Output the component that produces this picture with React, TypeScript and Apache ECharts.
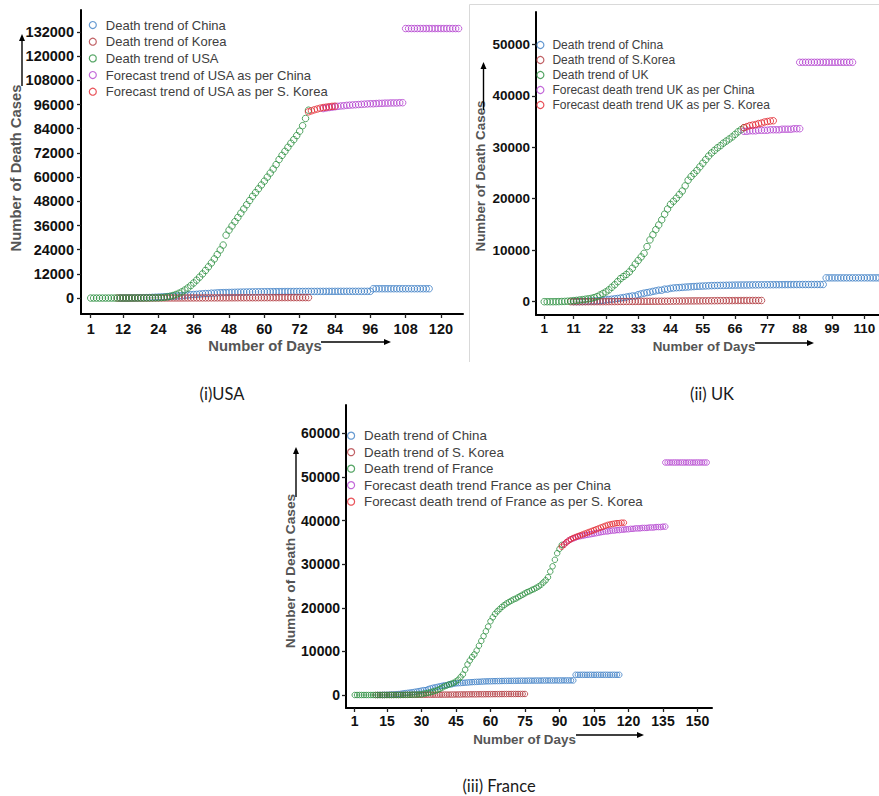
import React, { useEffect, useRef } from "react";
import * as echarts from "echarts";

// ---------- tick labels ----------
const usaDayTicks = [1, 12, 24, 36, 48, 60, 72, 84, 96, 108, 120];
const usaCaseTicks = [0, 12000, 24000, 36000, 48000, 60000, 72000, 84000, 96000, 108000, 120000, 132000];
const ukDayTicks = [1, 11, 22, 33, 44, 55, 66, 77, 88, 99, 110];
const ukCaseTicks = [0, 10000, 20000, 30000, 40000, 50000];
const frDayTicks = [1, 15, 30, 45, 60, 75, 90, 105, 120, 135, 150];
const frCaseTicks = [0, 10000, 20000, 30000, 40000, 50000, 60000];

// ---------- shared series ----------
const chinaStartDay = 11;
const chinaDeaths = [
  17, 18, 26, 42, 56, 82, 131, 133, 171, 213,
  259, 361, 425, 490, 562, 632, 717, 804, 904, 1011,
  1111, 1116, 1368, 1520, 1662, 1765, 1863, 2002, 2114, 2236,
  2236, 2441, 2443, 2593, 2663, 2715, 2744, 2788, 2835, 2870,
  2912, 2945, 2981, 3013, 3042, 3070, 3097, 3120, 3136, 3158,
  3169, 3176, 3189, 3199, 3213, 3226, 3237, 3245, 3249, 3253,
  3259, 3274, 3274, 3281, 3285, 3291, 3296, 3299, 3304, 3308,
  3309, 3316, 3322, 3326, 3330, 3331, 3333, 3335, 3338, 3339,
  3340, 3343, 3343, 3345, 3345, 3346,
  4632, 4632, 4632, 4632, 4632, 4632, 4633, 4633, 4633, 4633,
  4633, 4633, 4633, 4634, 4634, 4634, 4634, 4634, 4634, 4634,
];
const koreaStartDay = 10;
const koreaDeaths = [
  0, 0, 1, 2, 2, 6, 8, 10, 12, 13,
  13, 16, 17, 28, 28, 35, 35, 42, 44, 50,
  53, 54, 60, 66, 66, 72, 75, 75, 81, 84,
  91, 94, 102, 104, 111, 120, 126, 131, 139, 144,
  152, 158, 162, 165, 169, 174, 177, 183, 186, 192,
  200, 204, 208, 211, 214, 217, 222, 225, 229, 230,
  232, 234, 236, 237, 238, 240,
];

// ---------- USA ----------
const usaStartDay = 1;
const usaDeaths = [
  0, 0, 0, 1, 1, 2, 6, 9, 11, 12,
  14, 17, 19, 22, 26, 31, 38, 41, 49, 57,
  69, 85, 108, 150, 250, 400, 600, 900, 1300, 1800,
  2400, 3100, 4000, 5000, 6200, 7500, 8900, 10400, 12000, 13700,
  15500, 17400, 19400, 21600, 23900, 26300, 31200, 33700, 35800, 37900,
  40000, 42100, 44200, 46300, 48400, 50500, 52300, 54200, 56100, 58000,
  60000, 62000, 64000, 66200, 68700, 70800, 72800, 74800, 76800, 78600,
  80600, 82800, 85500, 89100, 93200,
];
const usaChinaFcStartDay = 80;
const usaChinaFc = [
  94000, 94300, 94500, 94700, 94900, 95100, 95300, 95400, 95600, 95700,
  95800, 95900, 96000, 96100, 96200, 96300, 96400, 96400, 96500, 96600,
  96600, 96700, 96700, 96800, 96800, 96800, 96900, 96900,
];
const usaChinaFc2StartDay = 108;
const usaChinaFc2 = [
  133700, 133700, 133700, 133700, 133700, 133700, 133700, 133700, 133700, 133700,
  133700, 133700, 133700, 133700, 133700, 133700, 133700, 133700, 133700,
];
const usaKoreaFcStartDay = 75;
const usaKoreaFc = [92400, 92900, 93400, 93800, 94200, 94500, 94700, 94900, 95100, 95200];

// ---------- UK ----------
const ukStartDay = 1;
const ukDeaths = [
  0, 0, 0, 0, 10, 20, 40, 60, 100, 150,
  200, 260, 330, 400, 480, 560, 650, 800, 1000, 1300,
  1600, 1900, 2300, 2800, 3300, 3900, 4500, 4900, 5300, 5800,
  6500, 7300, 8000, 8700, 9400, 10700, 12000, 13000, 14000, 14900,
  15900, 17000, 18000, 18900, 19500, 20100, 20800, 21500, 22500, 23600,
  24300, 24900, 25500, 26200, 26900, 27600, 28300, 28900, 29400, 29900,
  30300, 30800, 31200, 31600, 32000, 32500, 33000, 33400, 33800,
];
const ukChinaFcStartDay = 69;
const ukChinaFc = [
  33100, 33100, 33200, 33200, 33200, 33300, 33300, 33300, 33300, 33400,
  33400, 33400, 33400, 33500, 33500, 33500, 33500, 33600, 33600, 33600,
];
const ukChinaFc2StartDay = 88;
const ukChinaFc2 = [
  46500, 46500, 46500, 46500, 46500, 46500, 46500, 46500, 46500, 46500,
  46500, 46500, 46500, 46500, 46500, 46500, 46500, 46500, 46500,
];
const ukKoreaFcStartDay = 69;
const ukKoreaFc = [33800, 34000, 34200, 34300, 34400, 34600, 34700, 34900, 35000, 35100, 35150];

// ---------- France ----------
const frStartDay = 1;
const frDeaths = [
  0, 0, 1, 1, 1, 1, 1, 1, 2, 2,
  2, 2, 2, 2, 2, 3, 4, 4, 7, 9,
  11, 19, 33, 48, 48, 79, 91, 91, 148, 148,
  300, 400, 520, 650, 800, 950, 1150, 1400, 1700, 2000,
  2200, 2400, 2600, 2800, 3100, 3500, 4100, 4700, 5800, 7000,
  7900, 8700, 9300, 10200, 11300, 12400, 13500, 14600, 15700, 16900,
  17800, 18600, 19200, 19700, 20200, 20600, 21000, 21300, 21600, 21900,
  22100, 22400, 22700, 23000, 23300, 23600, 23800, 24100, 24300, 24600,
  24900, 25300, 25800, 26300, 27000, 28300, 29500, 31000, 32500, 33500, 34400,
];
const frChinaFcStartDay = 92;
const frChinaFc = [
  34500, 35000, 35400, 35700, 35900, 36100, 36300, 36400, 36500, 36600,
  36700, 36800, 36900, 37000, 37100, 37200, 37300, 37400, 37500, 37500,
  37600, 37700, 37700, 37800, 37800, 37900, 37900, 38000, 38000, 38100,
  38100, 38200, 38200, 38200, 38300, 38300, 38300, 38400, 38400, 38400,
  38500, 38500, 38500, 38600, 38600,
];
const frChinaFc2StartDay = 136;
const frChinaFc2 = [
  53300, 53300, 53300, 53300, 53300, 53300, 53300, 53300, 53300, 53300,
  53300, 53300, 53300, 53300, 53300, 53300, 53300, 53300, 53300,
];
const frKoreaFcStartDay = 91;
const frKoreaFc = [
  34000, 34500, 35000, 35400, 35700, 36000, 36200, 36400, 36600, 36800,
  37000, 37200, 37400, 37600, 37800, 38000, 38200, 38400, 38600, 38800,
  39000, 39100, 39200, 39300, 39400, 39400, 39500, 39500,
];

// ---------- names ----------
const usaNames = [
  "Death trend of China",
  "Death trend of Korea",
  "Death trend of USA",
  "Forecast trend of USA as per China",
  "Forecast trend of USA as per S. Korea",
];
const ukNames = [
  "Death trend of China",
  "Death trend of S.Korea",
  "Death trend of UK",
  "Forecast death trend UK as per China",
  "Forecast death trend UK as per S. Korea",
];
const frNames = [
  "Death trend of China",
  "Death trend of S. Korea",
  "Death trend of France",
  "Forecast death trend France as per China",
  "Forecast death trend of France as per S. Korea",
];

const COLORS = ["#3f7fc6", "#b2393f", "#2a8f3e", "#b444cf", "#e3272f"];
const SANS = "Liberation Sans";

function seg(start: number, values: number[]) {
  return values.map((v, i) => [start + i, v]);
}

export default function App() {
  const ref = useRef<HTMLDivElement>(null);
  useEffect(() => {
    if (!ref.current) return;
    const chart = echarts.init(ref.current, undefined, { renderer: "svg" });

    const grids = [
      { left: 81, top: 10, width: 382, height: 304 },
      { left: 536, top: 12, width: 343, height: 303 },
      { left: 346, top: 405, width: 366, height: 303 },
    ];
    const xCfg = [
      { min: -2.3, max: 127.5, ticks: usaDayTicks, fs: 14.5, margin: 7 },
      { min: -1.8, max: 115, ticks: ukDayTicks, fs: 13.5, margin: 6 },
      { min: -2.8, max: 156.3, ticks: frDayTicks, fs: 14, margin: 6 },
    ];
    const yCfg = [
      { min: -7900, max: 142900, ticks: usaCaseTicks, fs: 14.5, margin: 7 },
      { min: -2580, max: 56270, ticks: ukCaseTicks, fs: 13.5, margin: 6 },
      { min: -2977, max: 66480, ticks: frCaseTicks, fs: 14, margin: 6 },
    ];
    const axisCommon = (c: any, i: number) => ({
      type: "value",
      gridIndex: i,
      min: c.min,
      max: c.max,
      axisLine: { show: true, onZero: false, lineStyle: { color: "#000", width: 2 } },
      axisTick: { show: true, length: 4, customValues: c.ticks, lineStyle: { color: "#222", width: 1.3 } },
      axisLabel: {
        customValues: c.ticks,
        formatter: (v: number) => String(v),
        fontFamily: SANS,
        fontWeight: "bold",
        fontSize: c.fs,
        color: "#111",
        margin: c.margin,
      },
      splitLine: { show: false },
    });

    const symSizes = [6.5, 6.5, 5.5];
    const sc = (name: string, data: number[][], color: string, g: number) => ({
      type: "scatter",
      name,
      xAxisIndex: g,
      yAxisIndex: g,
      data,
      symbol: "circle",
      symbolSize: symSizes[g],
      itemStyle: { color: "rgba(0,0,0,0)", borderColor: color, borderWidth: 1 },
      silent: true,
      clip: true,
    });

    const series = [
      sc(usaNames[0], seg(chinaStartDay, chinaDeaths), COLORS[0], 0),
      sc(usaNames[1], seg(koreaStartDay, koreaDeaths), COLORS[1], 0),
      sc(usaNames[2], seg(usaStartDay, usaDeaths), COLORS[2], 0),
      sc(usaNames[3], seg(usaChinaFcStartDay, usaChinaFc).concat(seg(usaChinaFc2StartDay, usaChinaFc2)), COLORS[3], 0),
      sc(usaNames[4], seg(usaKoreaFcStartDay, usaKoreaFc), COLORS[4], 0),

      sc(ukNames[0], seg(chinaStartDay, chinaDeaths), COLORS[0], 1),
      sc(ukNames[1], seg(koreaStartDay, koreaDeaths), COLORS[1], 1),
      sc(ukNames[2], seg(ukStartDay, ukDeaths), COLORS[2], 1),
      sc(ukNames[3], seg(ukChinaFcStartDay, ukChinaFc).concat(seg(ukChinaFc2StartDay, ukChinaFc2)), COLORS[3], 1),
      sc(ukNames[4], seg(ukKoreaFcStartDay, ukKoreaFc), COLORS[4], 1),

      sc(frNames[0], seg(chinaStartDay, chinaDeaths), COLORS[0], 2),
      sc(frNames[1], seg(koreaStartDay, koreaDeaths), COLORS[1], 2),
      sc(frNames[2], seg(frStartDay, frDeaths), COLORS[2], 2),
      sc(frNames[3], seg(frChinaFcStartDay, frChinaFc).concat(seg(frChinaFc2StartDay, frChinaFc2)), COLORS[3], 2),
      sc(frNames[4], seg(frKoreaFcStartDay, frKoreaFc), COLORS[4], 2),
    ];

    const legendData = (names: string[]) =>
      names.map((n, i) => ({
        name: n,
        icon: "circle",
        itemStyle: { color: "rgba(0,0,0,0)", borderColor: COLORS[i], borderWidth: 1.2 },
      }));
    const legendCommon = {
      orient: "vertical",
      itemHeight: 7,
      itemGap: 0,
      padding: 0,
      selectedMode: false,
    };

    const txt = (text: string, x: number, y: number, fs: number, rot = 0, color = "#555", weight = "bold", family = SANS) => ({
      type: "text",
      x,
      y,
      rotation: rot,
      silent: true,
      style: {
        text,
        fontSize: fs,
        fontWeight: weight,
        fontFamily: family,
        fill: color,
        align: "center",
        verticalAlign: "middle",
        textAlign: "center",
        textVerticalAlign: "middle",
      },
    });
    const hArrow = (x1: number, x2: number, y: number) => [
      { type: "line", silent: true, shape: { x1, y1: y, x2: x2 - 4, y2: y }, style: { stroke: "#000", lineWidth: 1.4 } },
      { type: "polygon", silent: true, shape: { points: [[x2, y], [x2 - 7, y - 3], [x2 - 7, y + 3]] }, style: { fill: "#000" } },
    ];
    const vArrow = (x: number, y1: number, y2: number) => [
      { type: "line", silent: true, shape: { x1: x, y1, x2: x, y2: y2 + 4 }, style: { stroke: "#000", lineWidth: 1.4 } },
      { type: "polygon", silent: true, shape: { points: [[x, y2], [x - 3, y2 + 7], [x + 3, y2 + 7]] }, style: { fill: "#000" } },
    ];

    const graphic = [
      // UK panel frame
      { type: "line", silent: true, shape: { x1: 469.5, y1: 4.5, x2: 879, y2: 4.5 }, style: { stroke: "#d9d9d9", lineWidth: 1 } },
      { type: "line", silent: true, shape: { x1: 469.5, y1: 4.5, x2: 469.5, y2: 362 }, style: { stroke: "#d9d9d9", lineWidth: 1 } },
      // USA
      txt("Number of Death Cases", 16, 168, 14.8, Math.PI / 2),
      ...vArrow(22, 86, 34),
      txt("Number of Days", 265, 345.5, 14.8),
      ...hArrow(321, 391, 342),
      // UK
      txt("Number of Death Cases", 480, 176, 13.4, Math.PI / 2),
      ...vArrow(483.5, 110, 62),
      txt("Number of Days", 704, 346.5, 13.4),
      ...hArrow(755, 814, 343),
      // France
      txt("Number of Death Cases", 290, 571, 13.7, Math.PI / 2),
      ...vArrow(296, 497, 447),
      txt("Number of Days", 524.5, 739, 13.4),
      ...hArrow(576, 644, 735),
      // captions
      txt("(i)USA", 222, 394, 16.5, 0, "#1a1a1a", "normal", "Lato"),
      txt("(ii) UK", 712, 394, 16.5, 0, "#1a1a1a", "normal", "Lato"),
      txt("(iii) France", 499, 786, 16.5, 0, "#1a1a1a", "normal", "Lato"),
    ];

    chart.setOption({
      animation: false,
      backgroundColor: "#fff",
      grid: grids,
      xAxis: xCfg.map((c, i) => axisCommon(c, i)),
      yAxis: yCfg.map((c, i) => axisCommon(c, i)),
      legend: [
        {
          ...legendCommon,
          left: 88.7,
          top: 16.7,
          itemWidth: 16,
          textStyle: { fontFamily: SANS, fontSize: 13, lineHeight: 16.67, color: "#404040" },
          data: legendData(usaNames),
        },
        {
          ...legendCommon,
          left: 536.3,
          top: 37.5,
          itemWidth: 14,
          textStyle: { fontFamily: SANS, fontSize: 12, lineHeight: 15, color: "#404040" },
          data: legendData(ukNames),
        },
        {
          ...legendCommon,
          left: 347,
          top: 427.4,
          itemWidth: 16,
          textStyle: { fontFamily: SANS, fontSize: 13.3, lineHeight: 16.5, color: "#404040" },
          data: legendData(frNames),
        },
      ],
      series,
      graphic,
    });
    return () => chart.dispose();
  }, []);
  return (
    <div
      ref={ref}
      style={{ position: "fixed", left: 0, top: 0, width: 879, height: 796, background: "#fff" }}
    />
  );
}
